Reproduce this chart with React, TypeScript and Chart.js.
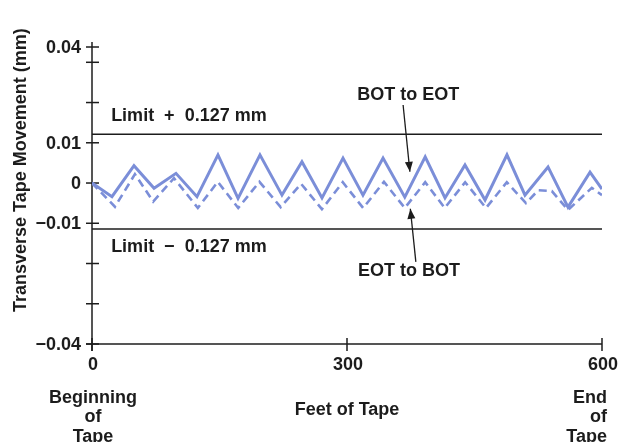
import React, { useEffect, useRef } from "react";
import { Chart, registerables } from "chart.js";

Chart.register(...registerables);

// BOT to EOT (solid)
const solidFeet = [0, 23.5, 49.4, 73, 98.8, 123.5, 148.2, 171.8, 197.6, 223.5, 247, 270.6, 295.3, 318.8, 342.4, 368, 392, 415.3, 438.8, 462.4, 488.2, 509.4, 536.5, 560, 585.9, 600];
const solidValues = [0, -0.0034, 0.0043, -0.0013, 0.0024, -0.0034, 0.007, -0.0038, 0.007, -0.003, 0.0053, -0.0037, 0.0062, -0.003, 0.0062, -0.0035, 0.0065, -0.0037, 0.0045, -0.0042, 0.007, -0.003, 0.004, -0.006, 0.0027, -0.0015];

// EOT to BOT (dashed)
const dashedFeet = [0, 27, 50.5, 72, 96.5, 124.5, 148, 172, 197, 222, 246, 270.5, 295, 319, 343.5, 368, 392, 415, 439, 463.5, 488, 510.5, 525, 541, 560, 588, 600];
const dashedValues = [0, -0.0059, 0.0022, -0.0046, 0.0012, -0.0062, 0.0003, -0.0062, 0.0003, -0.006, -0.0002, -0.0065, 0.0002, -0.0062, 0.0003, -0.0062, 0.0002, -0.0062, 0.0002, -0.0062, 0.0002, -0.005, -0.0018, -0.002, -0.0067, -0.0012, -0.003];

const limitFeet = [0, 600];
const upperLimit = 0.0121;
const lowerLimit = -0.0114;

const xTickValues = [0, 300, 600];
const xTickLabels = ["0", "300", "600"];
const yTickValues = [0.0338, 0.03, 0.02, 0.01, 0, -0.01, -0.02, -0.03, -0.04];
const yTickLabels = ["0.04", "", "", "0.01", "0", "\u22120.01", "", "", "\u22120.04"];

const yTitle = "Transverse Tape Movement (mm)";
const xTitle = "Feet of Tape";
const beginLines = ["Beginning", "of", "Tape"];
const endLines = ["End", "of", "Tape"];
const upperLimitText = "Limit  +  0.127 mm";
const lowerLimitText = "Limit  \u2212  0.127 mm";
const solidLabel = "BOT to EOT";
const dashedLabel = "EOT to BOT";

const FONT = "bold 18px 'Liberation Sans', Arial, sans-serif";
const INK = "#1c1c1c";
const BLUE = "#7b8ed8";

function drawArrow(ctx: CanvasRenderingContext2D, x1: number, y1: number, x2: number, y2: number) {
  ctx.beginPath();
  ctx.moveTo(x1, y1);
  ctx.lineTo(x2, y2);
  ctx.stroke();
  const ang = Math.atan2(y2 - y1, x2 - x1);
  const len = 10;
  const w = 4;
  ctx.beginPath();
  ctx.moveTo(x2, y2);
  ctx.lineTo(x2 - len * Math.cos(ang) + w * Math.sin(ang), y2 - len * Math.sin(ang) - w * Math.cos(ang));
  ctx.lineTo(x2 - len * Math.cos(ang) - w * Math.sin(ang), y2 - len * Math.sin(ang) + w * Math.cos(ang));
  ctx.closePath();
  ctx.fill();
}

const decorPlugin = {
  id: "decor",
  beforeDraw(chart: any) {
    const { ctx } = chart;
    ctx.save();
    ctx.fillStyle = "#ffffff";
    ctx.fillRect(0, 0, chart.width, chart.height);
    ctx.restore();
  },
  beforeDatasetsDraw(chart: any) {
    const { ctx } = chart;
    const xs = chart.scales.x;
    const ys = chart.scales.y;
    const x0 = xs.getPixelForValue(0);
    const yBottom = ys.getPixelForValue(-0.04);
    const yTop = ys.getPixelForValue(yTickValues[0]);
    ctx.save();
    ctx.strokeStyle = INK;
    ctx.lineWidth = 1.5;
    // y axis
    ctx.beginPath();
    ctx.moveTo(x0, yTop - 5);
    ctx.lineTo(x0, yBottom + 7);
    ctx.stroke();
    // x axis
    ctx.beginPath();
    ctx.moveTo(x0 - 6, yBottom);
    ctx.lineTo(xs.getPixelForValue(600), yBottom);
    ctx.stroke();
    // y tick marks + labels
    ctx.font = FONT;
    ctx.fillStyle = INK;
    ctx.textAlign = "right";
    ctx.textBaseline = "middle";
    yTickValues.forEach((v, i) => {
      const py = ys.getPixelForValue(v);
      ctx.beginPath();
      ctx.moveTo(x0 - 6, py);
      ctx.lineTo(x0 + 7, py);
      ctx.stroke();
      if (yTickLabels[i]) ctx.fillText(yTickLabels[i], x0 - 11, py + 1);
    });
    // x tick marks + labels
    ctx.textAlign = "center";
    xTickValues.forEach((v, i) => {
      const px = xs.getPixelForValue(v);
      ctx.beginPath();
      ctx.moveTo(px, yBottom - 6);
      ctx.lineTo(px, yBottom + 7);
      ctx.stroke();
      ctx.fillText(xTickLabels[i], px + 1, yBottom + 21);
    });
    // beginning / end of tape
    beginLines.forEach((t, i) => ctx.fillText(t, x0 + 1, yBottom + 54 + i * 19.5));
    ctx.textAlign = "right";
    endLines.forEach((t, i) => ctx.fillText(t, xs.getPixelForValue(600) + 5, yBottom + 54 + i * 19.5));
    // x title
    ctx.textAlign = "center";
    ctx.fillText(xTitle, (xs.left + xs.right) / 2, yBottom + 66);
    // y title
    ctx.save();
    ctx.translate(21, ys.getPixelForValue(0.0032));
    ctx.rotate(-Math.PI / 2);
    ctx.fillText(yTitle, 0, 0);
    ctx.restore();
    ctx.restore();
  },
  afterDatasetsDraw(chart: any) {
    const { ctx } = chart;
    const xs = chart.scales.x;
    const ys = chart.scales.y;
    const X = (v: number) => xs.getPixelForValue(v);
    const Y = (v: number) => ys.getPixelForValue(v);
    ctx.save();
    ctx.font = FONT;
    ctx.fillStyle = INK;
    ctx.strokeStyle = INK;
    ctx.lineWidth = 1.3;
    ctx.textBaseline = "middle";
    ctx.textAlign = "left";
    ctx.fillText(upperLimitText, X(22.5), Y(0.0166));
    ctx.fillText(lowerLimitText, X(22.5), Y(-0.0159));
    ctx.textAlign = "center";
    ctx.fillText(solidLabel, X(372), Y(0.0219));
    ctx.fillText(dashedLabel, X(373), Y(-0.0219));
    drawArrow(ctx, X(366), Y(0.0194), X(374), Y(0.0028));
    drawArrow(ctx, X(381), Y(-0.0196), X(374.5), Y(-0.0064));
    ctx.restore();
  },
};

export default function App() {
  const ref = useRef<HTMLCanvasElement | null>(null);
  useEffect(() => {
    if (!ref.current) return;
    const chart = new Chart(ref.current, {
      type: "line",
      data: {
        datasets: [
          {
            label: "Limit +",
            data: limitFeet.map((x) => ({ x, y: upperLimit })),
            borderColor: INK,
            borderWidth: 1.5,
            pointRadius: 0,
          },
          {
            label: "Limit -",
            data: limitFeet.map((x) => ({ x, y: lowerLimit })),
            borderColor: INK,
            borderWidth: 1.5,
            pointRadius: 0,
          },
          {
            label: dashedLabel,
            data: dashedFeet.map((x, i) => ({ x, y: dashedValues[i] })),
            borderColor: BLUE,
            borderWidth: 2.6,
            borderDash: [8, 5],
            pointRadius: 0,
            tension: 0,
          },
          {
            label: solidLabel,
            data: solidFeet.map((x, i) => ({ x, y: solidValues[i] })),
            borderColor: BLUE,
            borderWidth: 3,
            pointRadius: 0,
            tension: 0,
          },
        ],
      },
      options: {
        animation: false,
        responsive: false,
        devicePixelRatio: 1,
        layout: { padding: { left: 92, right: 21, top: 47, bottom: 98 } },
        scales: {
          x: { type: "linear", min: 0, max: 600, display: false },
          y: { type: "linear", min: -0.04, max: 0.0338, display: false },
        },
        plugins: { legend: { display: false }, tooltip: { enabled: false } },
      },
      plugins: [decorPlugin],
    });
    return () => chart.destroy();
  }, []);
  return (
    <div style={{ position: "absolute", left: 0, top: 0, width: 623, height: 442 }}>
      <canvas ref={ref} width={623} height={442} style={{ width: 623, height: 442 }} />
    </div>
  );
}
